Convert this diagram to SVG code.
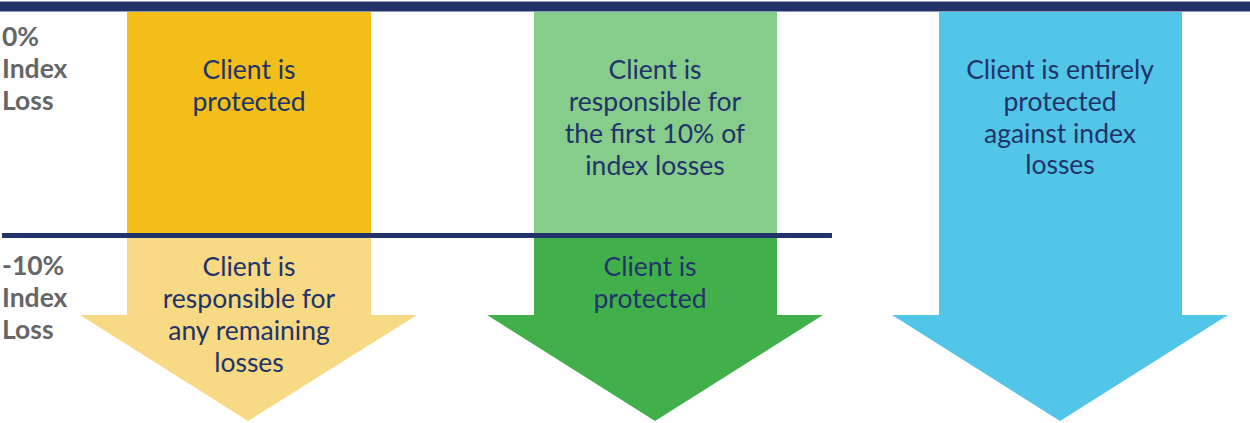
<svg xmlns="http://www.w3.org/2000/svg" width="1250" height="423" viewBox="0 0 1250 423">
<style>
.t{font-family:Lato,"Liberation Sans",sans-serif;font-size:26.5px;fill:#22336A;text-anchor:middle}
.l{font-family:Lato,"Liberation Sans",sans-serif;font-size:26.5px;font-weight:bold;fill:#666666}
.ln{fill:#22336A}
</style>
<rect width="1250" height="423" fill="#ffffff"/>
<g id="arrow-yellow">
<polygon points="127,12 371,12 371,315 417,315 248,421 80,315 127,315" fill="#F7DA83"/>
<rect x="127" y="12" width="244" height="222" fill="#F3BD1A"/>
<text class="t" x="249" y="79">Client is</text>
<text class="t" x="249" y="111">protected</text>
<text class="t" x="249" y="276">Client is</text>
<text class="t" x="249" y="308">responsible for</text>
<text class="t" x="249" y="340">any remaining</text>
<text class="t" x="249" y="372">losses</text>
</g>
<g id="arrow-green">
<polygon points="534,12 777,12 777,315 823,315 655,421 487,315 534,315" fill="#42B04A"/>
<rect x="534" y="12" width="243" height="222" fill="#86CD8B"/>
<text class="t" x="655" y="79">Client is</text>
<text class="t" x="655" y="111">responsible for</text>
<text class="t" x="655" y="143">the first 10% of</text>
<text class="t" x="655" y="175">index losses</text>
<text class="t" x="650" y="276">Client is</text>
<text class="t" x="650" y="308">protected</text>
</g>
<g id="arrow-blue">
<polygon points="939,12 1182,12 1182,315 1228,315 1060,421 892,315 939,315" fill="#52C6E8"/>
<text class="t" x="1060" y="79">Client is entirely</text>
<text class="t" x="1060" y="111">protected</text>
<text class="t" x="1060" y="143">against index</text>
<text class="t" x="1060" y="174">losses</text>
</g>
<g id="lines">
<rect class="ln" x="0" y="1.5" width="1250" height="10"/>
<rect class="ln" x="2" y="233" width="830" height="5"/>
</g>
<g id="labels">
<text class="l" x="2" y="46">0%</text>
<text class="l" x="2" y="78">Index</text>
<text class="l" x="2" y="110">Loss</text>
<text class="l" x="2" y="275">-10%</text>
<text class="l" x="2" y="307">Index</text>
<text class="l" x="2" y="339">Loss</text>
</g>
</svg>
